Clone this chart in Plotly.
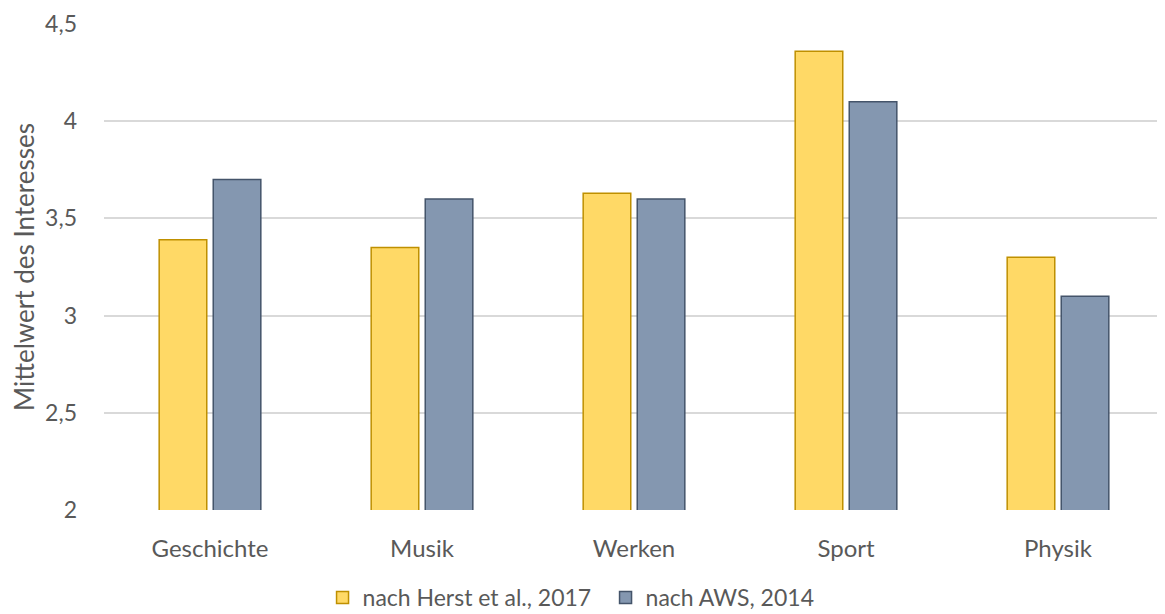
import plotly.graph_objects as go

categories = ["Geschichte", "Musik", "Werken", "Sport", "Physik"]
herst_2017 = [3.39, 3.35, 3.63, 4.36, 3.30]
aws_2014 = [3.70, 3.60, 3.60, 4.10, 3.10]
y_ticks = [2, 2.5, 3, 3.5, 4, 4.5]
y_ticklabels = ["2", "2,5", "3", "3,5", "4", "4,5"]

FONT = "Lato"
TXT = "#595959"

fig = go.Figure()
fig.add_trace(go.Bar(
    x=categories, y=herst_2017, name="nach Herst et al., 2017",
    marker=dict(color="#FFD966", line=dict(color="#BF9000", width=1.5)),
))
fig.add_trace(go.Bar(
    x=categories, y=aws_2014, name="nach AWS, 2014",
    marker=dict(color="#8497B0", line=dict(color="#44546A", width=1.5)),
))

fig.update_layout(
    width=1165, height=614,
    margin=dict(l=96, r=9, t=16, b=112, autoexpand=False),
    paper_bgcolor="white", plot_bgcolor="white",
    barmode="group", bargap=0.49, bargroupgap=0.12,
    font=dict(family=FONT, color=TXT, size=23),
    showlegend=True,
    legend=dict(orientation="h", xref="container", yref="container",
                x=0.27, xanchor="left", y=0.04, yanchor="middle",
                entrywidth=238, font=dict(size=23, color=TXT), itemwidth=30,
                traceorder="normal"),
    xaxis=dict(showgrid=False, showline=False, ticks="", ticklabelstandoff=22,
               automargin=False, tickfont=dict(size=24, color=TXT)),
    yaxis=dict(range=[2, 4.5], tickvals=y_ticks, ticktext=y_ticklabels,
               showgrid=True, gridcolor="#D9D9D9", gridwidth=1.5, zeroline=False,
               showline=False, ticks="", ticklabelstandoff=26, automargin=False,
               tickfont=dict(size=23, color=TXT),
               title=dict(text="Mittelwert des Interesses", font=dict(size=26, color=TXT), standoff=13)),
)
fig.write_html("out.html")
